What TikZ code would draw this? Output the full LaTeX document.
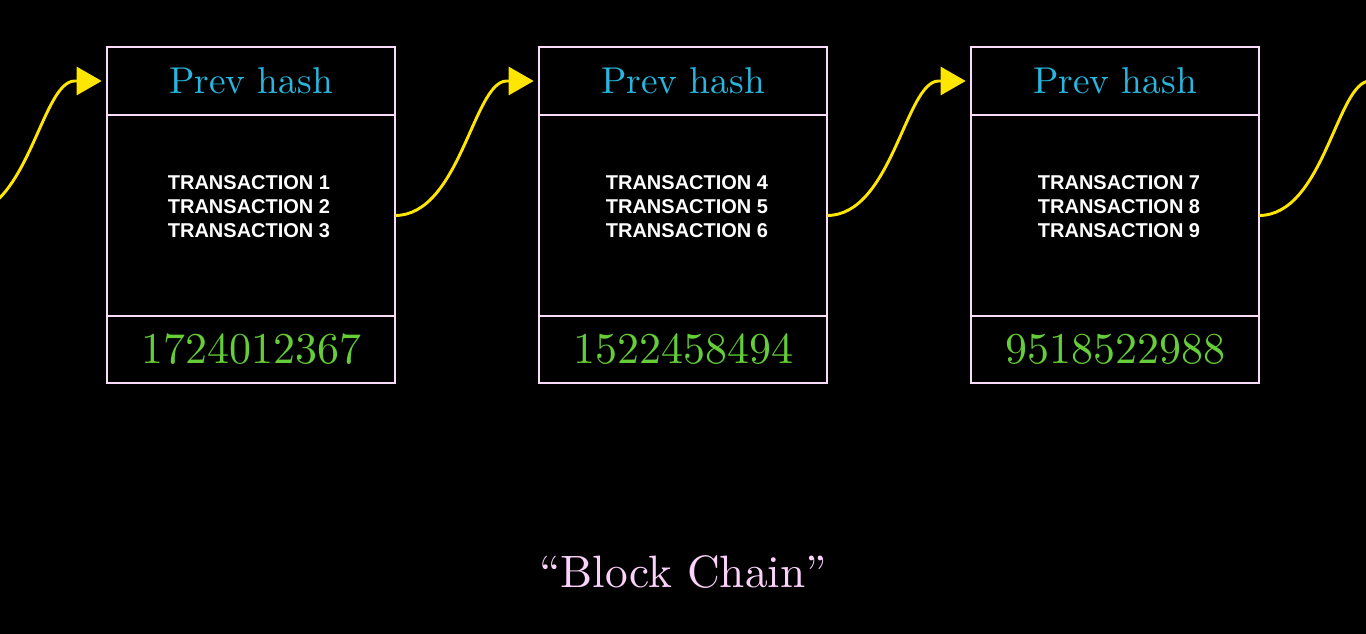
\documentclass[tikz,border=0pt]{standalone}
\usepackage{fontspec}
\setmainfont{lmroman10-regular}[Extension=.otf]
\newfontfamily\txfont{Liberation Sans}
\usetikzlibrary{arrows.meta}
\definecolor{boxc}{RGB}{248,220,248}
\definecolor{hashc}{RGB}{40,182,222}
\definecolor{numc}{RGB}{100,205,55}
\definecolor{linkc}{RGB}{255,230,0}
\definecolor{titlec}{RGB}{250,210,250}
\tikzset{
  cell/.style={draw=boxc, line width=2.1pt, minimum width=216pt, inner sep=0pt, outer sep=0pt, fill=none},
  hashcell/.style={cell, minimum height=51pt, text=hashc, font=\fontsize{28}{32}\selectfont},
  txcell/.style={cell, minimum height=150.75pt},
  numcell/.style={cell, minimum height=50.25pt, text=numc, font=\fontsize{33}{38}\selectfont},
  txtext/.style={text=white, align=center, inner sep=0pt, font=\txfont\bfseries\fontsize{15}{18}\selectfont},
  link/.style={draw=linkc, line width=2.2pt, -{Triangle[length=18.75pt, width=21pt]}},
  title/.style={text=titlec, font=\fontsize{34}{40}\selectfont, inner sep=0pt}
}
\begin{document}
\begin{tikzpicture}[x=0.75pt, y=-0.75pt]
  \fill[black] (0,0) rectangle (1366,634);
  \useasboundingbox (0,0) rectangle (1366,634);
  \clip (0,0) rectangle (1366,634);
  % block 1
  \node[hashcell] (hash1) at (251,81) {Prev hash};
  \node[txcell] (tx1) at (251,215.5) {};
  \node[numcell] (num1) at (251,349.5) {1724012367};
  \node[txtext] (t1) at (249,207) {TRANSACTION 1\\TRANSACTION 2\\TRANSACTION 3};
  % block 2
  \node[hashcell] (hash2) at (683,81) {Prev hash};
  \node[txcell] (tx2) at (683,215.5) {};
  \node[numcell] (num2) at (683,349.5) {1522458494};
  \node[txtext] (t2) at (687,207) {TRANSACTION 4\\TRANSACTION 5\\TRANSACTION 6};
  % block 3
  \node[hashcell] (hash3) at (1115,81) {Prev hash};
  \node[txcell] (tx3) at (1115,215.5) {};
  \node[numcell] (num3) at (1115,349.5) {9518522988};
  \node[txtext] (t3) at (1119,207) {TRANSACTION 7\\TRANSACTION 8\\TRANSACTION 9};
  % links
  \coordinate (in0) at (-37,215);
  \coordinate (out3) at (1370,81);
  \draw[link] (in0) .. controls +(65,0) and +(-33,0) .. ([xshift=-24.25pt]hash1.west) -- ([xshift=-4pt]hash1.west);
  \draw[link] (tx1.east) .. controls +(65,0) and +(-33,0) .. ([xshift=-24.25pt]hash2.west) -- ([xshift=-4pt]hash2.west);
  \draw[link] (tx2.east) .. controls +(65,0) and +(-33,0) .. ([xshift=-24.25pt]hash3.west) -- ([xshift=-4pt]hash3.west);
  \draw[draw=linkc, line width=2.2pt] (tx3.east) .. controls +(65,0) and +(-33,0) .. (out3);
  % title
  \node[title, anchor=base] (title) at (683,587) {``Block Chain''};
\end{tikzpicture}
\end{document}
